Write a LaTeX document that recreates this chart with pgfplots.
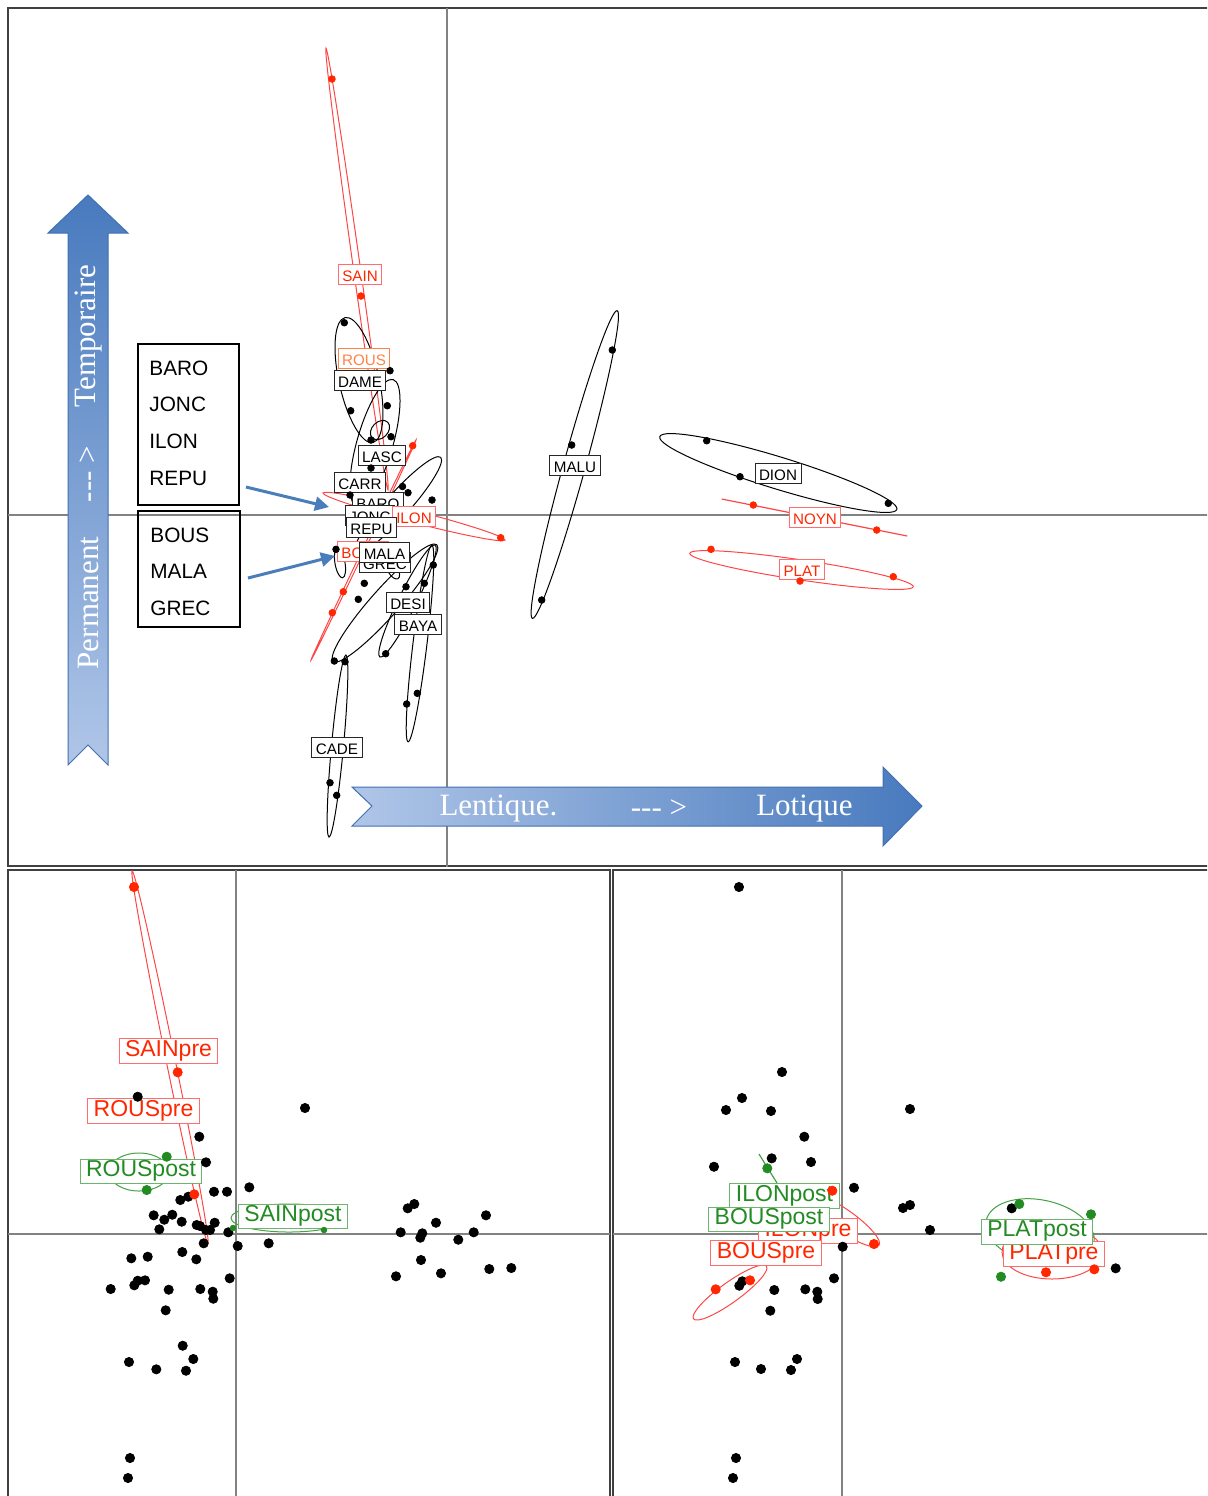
\documentclass[border=0pt]{standalone}
\usepackage{pgfplots}
\pgfplotsset{compat=1.18}
\usepackage{fontspec}
\setmainfont{Liberation Serif}
\setsansfont{Liberation Sans}
\usetikzlibrary{arrows.meta}

\definecolor{dotred}{RGB}{255,38,0}
\definecolor{linered}{RGB}{255,70,70}
\definecolor{boxred}{RGB}{255,110,110}
\definecolor{rousor}{RGB}{255,130,70}
\definecolor{dotgreen}{RGB}{34,139,34}
\definecolor{linegreen}{RGB}{70,160,70}
\definecolor{boxgreen}{RGB}{110,180,110}
\definecolor{crossgray}{RGB}{130,130,130}
\definecolor{arrowblue}{RGB}{74,126,187}
\definecolor{arrowdark}{RGB}{72,122,190}
\definecolor{arrowlight}{RGB}{176,198,232}
\definecolor{arrowedge}{RGB}{66,112,176}

\newcommand{\ellip}[6][black]{\draw[#1, line width=0.5pt, rotate around={#6:(axis cs:#2,#3)}] (axis cs:#2,#3) ellipse [x radius=#4, y radius=#5];}

\tikzset{
 lab/.style={draw=black!85, fill=white, text=black, line width=0.5pt, font=\sffamily\fontsize{7.6}{8}\selectfont, inner xsep=2pt, inner ysep=1.3pt, text height=0.72em, text depth=0.02em},
 labr/.style={lab, draw=boxred, text=dotred},
 labo/.style={lab, draw=rousor, text=rousor},
 big/.style={draw=black!85, fill=white, line width=0.5pt, font=\sffamily\fontsize{11.5}{12}\selectfont, inner xsep=3pt, inner ysep=1.5pt, text height=0.72em, text depth=0.21em},
 bigr/.style={big, draw=boxred, text=dotred},
 bigg/.style={big, draw=boxgreen, text=dotgreen},
 arrtxt/.style={text=white, font=\fontsize{15.5}{16}\selectfont, inner sep=0pt},
 boxtxt/.style={anchor=west, font=\sffamily\fontsize{10.4}{11}\selectfont, inner sep=0pt},
}
\pgfplotsset{
 panel/.style={x=0.5pt, y=0.5pt, y dir=reverse, anchor=north west, xtick=\empty, ytick=\empty,
   axis line style={draw=black!75, line width=0.6pt}, clip=true},
 sdot/.style={only marks, mark=*, mark size=1.65pt},
 ldot/.style={only marks, mark=*, mark size=2.3pt},
 cross/.style={crossgray, line width=0.75pt},
}

\begin{document}
\begin{tikzpicture}
\useasboundingbox (0,0) rectangle (603.5pt,-748pt);
\clip (0,0) rectangle (603.5pt,-748pt);

% ================= TOP PANEL =================
\begin{axis}[panel, at={(4pt,-4pt)}, xmin=8, xmax=1214, ymin=8, ymax=866]
\addplot[cross] coordinates {(447,0) (447,900)};
\addplot[cross] coordinates {(0,515) (1300,515)};

% ellipses
\ellip[linered]{357}{269}{223}{3.5}{-82.0}
\ellip[linered]{363.5}{550}{122}{1.2}{64.5}
\ellip[linered]{414}{516.5}{94}{6}{-14.5}
\ellip{359}{380}{64}{20}{-77.4}
\ellip{375}{443}{66}{18}{74.1}
\ellip{380}{430}{11}{8}{45}
\ellip{398}{505}{64}{12}{48.2}
\ellip{385}{603}{78}{14}{48.4}
\ellip{407.5}{601}{62.4}{9}{63.8}
\ellip{420}{643.5}{99}{7}{83.1}
\ellip{337.5}{746}{91.4}{6}{84.7}
\ellip{340}{563}{15}{5}{-80}
\ellip{393}{570}{10}{5}{-60}
\ellip{574.8}{464.5}{159.6}{11}{74.6}
\ellip{778.3}{473}{124}{16}{-17.05}
\ellip[linered]{801.5}{570}{113}{10}{-8.5}
\addplot[linered, line width=0.6pt] coordinates {(721.7,499) (907.3,536)};

% left annotation: up arrow
\shadedraw[top color=arrowdark, bottom color=arrowlight, draw=arrowedge, line width=0.5pt]
 (axis cs:68,765) -- (axis cs:88,745) -- (axis cs:108,765) -- (axis cs:108,233) -- (axis cs:128,233)
 -- (axis cs:88,195) -- (axis cs:48,233) -- (axis cs:68,233) -- cycle;
\node[arrtxt, rotate=90] at (axis cs:89,603) {Permanent};
\node[arrtxt, rotate=90] at (axis cs:89,474) {-{}-{}- >};
\node[arrtxt, rotate=90] at (axis cs:89,336) {Temporaire};

% bottom annotation: right arrow
\shadedraw[left color=arrowlight, right color=arrowdark, draw=arrowedge, line width=0.5pt]
 (axis cs:352,787) -- (axis cs:883,787) -- (axis cs:883,767) -- (axis cs:922,806) -- (axis cs:883,846)
 -- (axis cs:883,826) -- (axis cs:352,826) -- (axis cs:372,806) -- cycle;
\node[arrtxt] at (axis cs:498.5,809) {Lentique.};
\node[arrtxt] at (axis cs:659,809) {-{}-{}- >};
\node[arrtxt] at (axis cs:804.5,809) {Lotique};

% boxes of site names
\draw[black, line width=0.6pt] (axis cs:138,344) rectangle (axis cs:239,505);
\draw[black, line width=0.6pt] (axis cs:138,511) rectangle (axis cs:240,627);
\node[boxtxt] at (axis cs:149,368) {BARO};
\node[boxtxt] at (axis cs:149,404) {JONC};
\node[boxtxt] at (axis cs:149,441) {ILON};
\node[boxtxt] at (axis cs:149,478) {REPU};
\node[boxtxt] at (axis cs:150,535) {BOUS};
\node[boxtxt] at (axis cs:150,571) {MALA};
\node[boxtxt] at (axis cs:150,608) {GREC};
\draw[arrowblue, line width=1.5pt, -{Triangle[length=7pt,width=7pt]}] (axis cs:246,487) -- (axis cs:329,507);
\draw[arrowblue, line width=1.5pt, -{Triangle[length=7pt,width=7pt]}] (axis cs:248,578) -- (axis cs:335,556);

% points
\addplot[sdot, black] coordinates {
(344.3,322.7) (390,370.7) (350.7,410.7) (387.3,405.7) (371,440) (391,436.7) (371,468)
(402.5,486.5) (408,492.7) (432,500) (350,495) (336,549.3) (433.3,565) (406,586.7)
(424.3,583.3) (364.3,583.3) (358.3,599.3) (385.7,653.7) (334.3,661) (345,661.7)
(417.3,693.3) (406.7,704) (330,782.7) (336.7,795.3)
(612.3,350) (571.7,445) (541.7,600) (706.7,440.7) (740,476.7) (888.3,503.3)};
\addplot[sdot, dotred] coordinates {
(332,79) (361,296) (412.7,445.7) (343.3,591.7) (332.3,612.7) (500.7,537.7)
(753.3,505) (876.7,530) (711,549.3) (800,581) (893.3,576.7)};

% labels
\node[labr] at (axis cs:360,274) {SAIN};
\node[labo] at (axis cs:364,358) {ROUS};
\node[lab] at (axis cs:360,380) {DAME};
\node[lab] at (axis cs:382,455) {LASC};
\node[lab] at (axis cs:360,482) {CARR};
\node[lab] at (axis cs:378,502) {BARO};
\node[lab] at (axis cs:370,515) {JONC};
\node[labr] at (axis cs:414,516.5) {ILON};
\node[lab] at (axis cs:371.5,527) {REPU};
\node[labr] at (axis cs:363,551) {BOUS};
\node[lab] at (axis cs:385,562) {GREC};
\node[lab] at (axis cs:384.5,552) {MALA};
\node[lab] at (axis cs:408,602) {DESI};
\node[lab] at (axis cs:418,624) {BAYA};
\node[lab] at (axis cs:337,747) {CADE};
\node[lab] at (axis cs:575,465) {MALU};
\node[lab] at (axis cs:778,473.5) {DION};
\node[labr] at (axis cs:815,517) {NOYN};
\node[labr] at (axis cs:802,569.5) {PLAT};
\end{axis}

% ================= BOTTOM LEFT =================
\begin{axis}[panel, at={(4pt,-435pt)}, xmin=8, xmax=610, ymin=870, ymax=1510]
\addplot[cross] coordinates {(236,860) (236,1520)};
\addplot[cross] coordinates {(0,1234) (620,1234)};
\ellip[linered]{170}{1057}{190}{4.5}{-78.5}
\ellip[linegreen]{139}{1172}{30}{19}{0}
\ellip[linegreen]{289}{1218}{58}{14}{0}
\addplot[ldot, black] coordinates {
(137.7,1096.7) (199.3,1136.7) (206,1162.3) (305,1108) (214,1191.7) (227,1191.7) (249.3,1187.3)
(180.3,1200) (188.3,1196.7) (153.7,1215.3) (164.3,1219.7) (172.3,1214.7) (181.7,1221.7)
(159.3,1229.3) (196.7,1225) (200,1226) (214.7,1222.7) (210,1230) (206,1230) (228.3,1232.3)
(203.7,1243.3) (237.7,1246) (268.7,1243.3) (131.3,1258.3) (147.7,1256.7) (182.3,1252)
(196.3,1259.3) (229.7,1278.3) (110.7,1289) (134.3,1285.3) (137.7,1280.7) (145,1280.3)
(168.7,1289.7) (200.3,1289) (212.7,1291.7) (213.3,1298.7) (165.7,1310.3) (182.7,1345.7)
(129,1362) (156.3,1369.3) (193.3,1359) (186,1370.7) (130,1458) (128,1478)
(407.7,1208.3) (414.3,1204) (436,1222.7) (400.7,1232.3) (422.3,1233.3) (420.3,1237.7)
(458.3,1239.7) (473.7,1232.3) (486,1215.3) (421,1260) (396,1276.3) (441,1273.3)
(489.3,1269) (511.3,1268)};
\addplot[ldot, dotred] coordinates {(134,887) (177.7,1072.3) (194.3,1194.3)};
\addplot[ldot, dotgreen] coordinates {(146.7,1190) (166.7,1156.7)};
\addplot[only marks, mark=*, mark size=1.4pt, dotgreen] coordinates {(233,1228) (324,1230)};
\node[bigr] at (axis cs:168.5,1051) {SAINpre};
\node[bigr] at (axis cs:143.5,1111) {ROUSpre};
\node[bigg] at (axis cs:141,1171.5) {ROUSpost};
\node[bigg] at (axis cs:293,1216.5) {SAINpost};
\end{axis}

% ================= BOTTOM RIGHT =================
\begin{axis}[panel, at={(306.5pt,-435pt)}, xmin=613, xmax=1214, ymin=870, ymax=1510]
\addplot[cross] coordinates {(842,860) (842,1520)};
\addplot[cross] coordinates {(600,1234) (1300,1234)};
\ellip[linered]{730}{1292.5}{45}{10}{35.8}
\ellip[linered]{843}{1220}{44}{11}{-35}
\ellip[linegreen]{1040}{1232}{55}{32}{-12}
\ellip[linered]{1052}{1252}{50}{27}{0}
\addplot[linegreen, line width=0.6pt] coordinates {(759,1154) (777,1183)};
\addplot[ldot, black] coordinates {
(739,887) (782,1072) (742,1098) (726,1110) (771,1111) (910,1109) (804.3,1136.7)
(714,1166.7) (771.7,1158.3) (811,1162) (854,1187.7) (903,1208) (910,1205) (930,1230)
(842.7,1246.7) (834,1278.3) (805.3,1289.3) (817.3,1291.7) (817.7,1299) (774.3,1290)
(770.3,1310.7) (742.3,1281.3) (739.3,1285.7) (735,1362) (761,1369) (797,1359) (791,1370)
(736,1458) (733,1478) (1011.7,1208.3) (1115.7,1268.3)};
\addplot[ldot, dotred] coordinates {(832.3,1190.7) (874,1244) (715.7,1289.3) (750,1280.3) (1046,1272.3) (1094.3,1269.3)};
\addplot[ldot, dotgreen] coordinates {(767.3,1168.3) (1019.3,1204) (1091,1214.3) (1001,1276.7)};
\node[bigr] at (axis cs:808,1231) {ILONpre};
\node[bigg] at (axis cs:784.5,1196) {ILONpost};
\node[bigg] at (axis cs:769,1219.5) {BOUSpost};
\node[bigr] at (axis cs:766,1253) {BOUSpre};
\node[bigr] at (axis cs:1054,1254) {PLATpre};
\node[bigg] at (axis cs:1037,1231.7) {PLATpost};
\end{axis}
\end{tikzpicture}
\end{document}
